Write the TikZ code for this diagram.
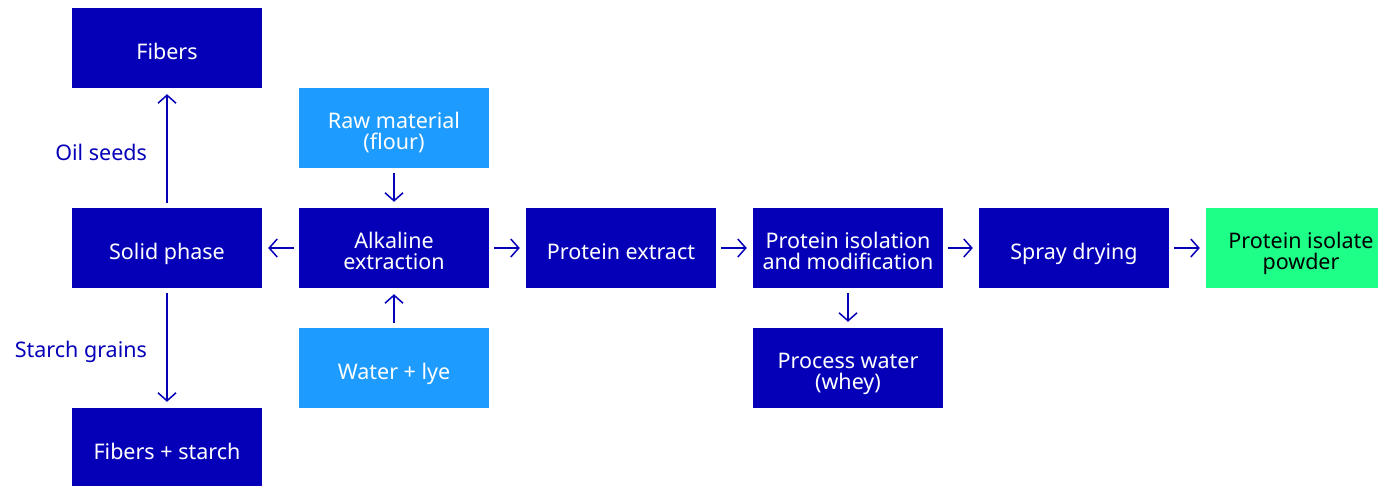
\documentclass[tikz,border=0pt]{standalone}
\usepackage{fontspec}
\setmainfont{Noto Sans}
\usetikzlibrary{positioning,arrows.meta}
\definecolor{dblue}{RGB}{5,0,184}
\definecolor{lblue}{RGB}{30,155,255}
\definecolor{lgreen}{RGB}{30,255,135}

\begin{document}
\begin{tikzpicture}[
  x=1pt, y=1pt,
  box/.style={rectangle, fill=dblue, text=white, minimum width=190pt, minimum height=80pt,
    align=center, font=\fontsize{21.5}{21}\selectfont, inner sep=0pt,
    text height=24pt, text depth=2pt},
  twoline/.style={text height=45pt, text depth=3pt},
  inbox/.style={box, fill=lblue},
  outbox/.style={box, fill=lgreen, text=black},
  arr/.style={draw=dblue, line width=1.5pt, -{Straight Barb[length=8pt,width=18pt]},
    shorten <=5pt, shorten >=6pt},
  lbl/.style={text=dblue, font=\fontsize{21.5}{21}\selectfont}
]

\useasboundingbox (0,0) rectangle (1378,-485);

% boxes
\node[box] (fib) at (167,-48) {Fibers};
\node[box] (solid) at (167,-248) {Solid phase};
\node[box] (fibst) at (167,-448) {Fibers + starch};
\node[inbox, twoline] (raw) at (394,-128) {Raw material\\(flour)};
\node[box, twoline] (alk) at (394,-248) {Alkaline\\extraction};
\node[inbox] (water) at (394,-368) {Water + lye};
\node[box] (extr) at (621,-248) {Protein extract};
\node[box, twoline] (isol) at (848,-248) {Protein isolation\\and modification};
\node[box, twoline] (proc) at (848,-368) {Process water\\(whey)};
\node[box] (spray) at (1074,-248) {Spray drying};
\node[outbox, twoline] (powd) at (1301,-248) {Protein isolate\\powder};

% connectors
\draw[arr] (raw) -- (alk);
\draw[arr] (water) -- (alk);
\draw[arr] (alk) -- (solid);
\draw[arr] (solid) -- node[lbl, left=16pt, yshift=-4pt]{Oil seeds} (fib);
\draw[arr] (solid) -- node[lbl, left=16pt, yshift=-4pt]{Starch grains} (fibst);
\draw[arr] (isol) -- (proc);

\foreach \a/\b in {alk/extr,extr/isol,isol/spray,spray/powd}
  \draw[arr] (\a) -- (\b);

\end{tikzpicture}
\end{document}
